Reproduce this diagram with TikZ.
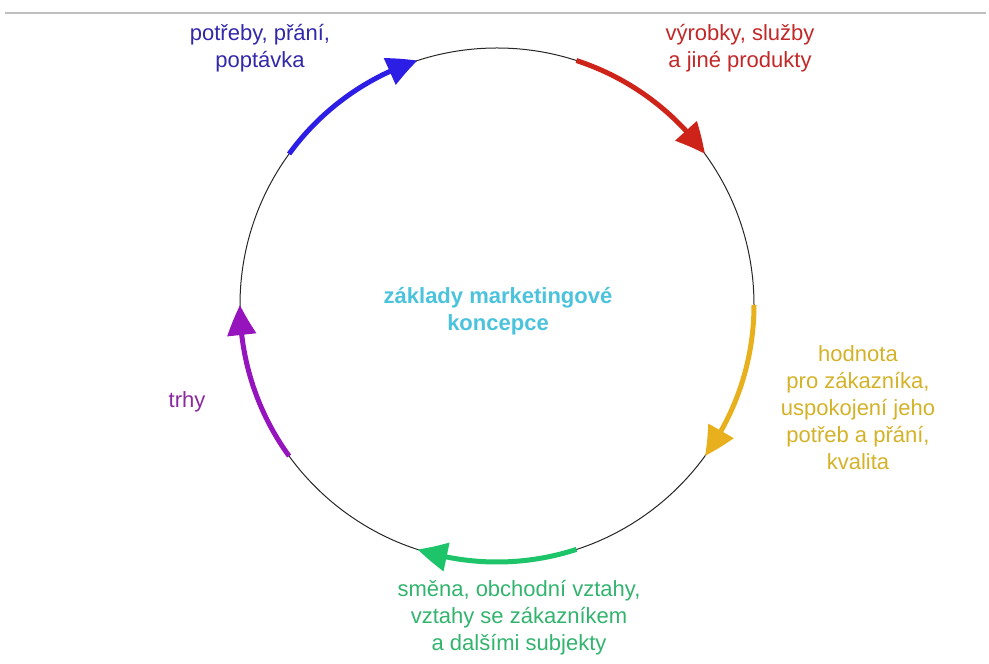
\documentclass[tikz,border=0pt]{standalone}
\usepackage{fontspec}
\setmainfont{Liberation Sans}
\usetikzlibrary{arrows.meta,bending}

\definecolor{needsArc}{RGB}{45,30,230}
\definecolor{needsText}{RGB}{50,40,170}
\definecolor{prodArc}{RGB}{205,35,25}
\definecolor{prodText}{RGB}{195,40,40}
\definecolor{valueArc}{RGB}{232,176,28}
\definecolor{valueText}{RGB}{212,178,40}
\definecolor{exchArc}{RGB}{30,196,105}
\definecolor{exchText}{RGB}{50,180,110}
\definecolor{marketArc}{RGB}{150,20,190}
\definecolor{marketText}{RGB}{140,40,160}
\definecolor{coreText}{RGB}{75,195,220}

\tikzset{
  label/.style={align=center, inner sep=0pt, font=\fontsize{22}{27}\selectfont},
  cyclearc/.style={line width=5pt, -{Triangle[length=30pt,width=28pt,bend]}}
}

\begin{document}
\begin{tikzpicture}[x=1pt,y=1pt]
    \useasboundingbox (0,0) rectangle (989,664);

    % Top rule
    \draw[gray!50, line width=1.5pt] (5,651) -- (986,651);

    % The circle
    \coordinate (c) at (497,359);
    \draw[black!85, line width=1pt] (c) circle (257);

    % Coloured arrows along the circle
    \foreach \a/\col in {144/needsArc, 72/prodArc, 0/valueArc, -72/exchArc, -144/marketArc}
        \draw[cyclearc, \col] (c) ++(\a:257) arc[start angle=\a, delta angle=-36, radius=257];

    % Labels
    \node[label, needsText] (needs) at (260,616) {potřeby, přání,\\poptávka};
    \node[label, prodText] (products) at (740,616) {výrobky, služby\\a jiné produkty};
    \node[label, valueText] (value) at (858,256)
        {hodnota\\pro zákazníka,\\uspokojení jeho\\potřeb a přání,\\kvalita};
    \node[label, exchText] (exchange) at (519,46)
        {směna, obchodní vztahy,\\vztahy se zákazníkem\\a dalšími subjekty};
    \node[label, marketText] (markets) at (187,262) {trhy};

    % Centre
    \node[label, coreText, font=\fontsize{22}{27}\selectfont\bfseries] (core) at (498,353)
        {základy marketingové\\koncepce};

\end{tikzpicture}
\end{document}
